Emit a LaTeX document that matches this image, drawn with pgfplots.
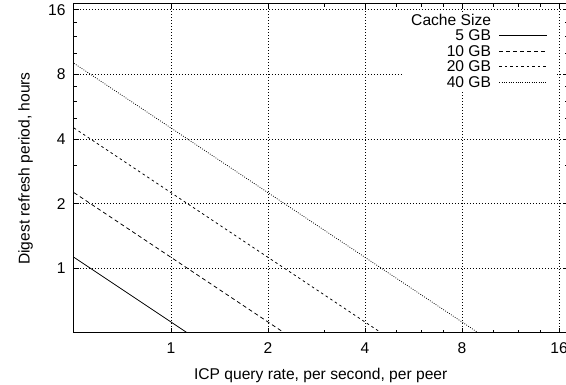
\documentclass[border=0pt]{standalone}
\usepackage{pgfplots}
\pgfplotsset{compat=1.18}
\usepackage{fontspec}
\setmainfont{Liberation Sans}
\newcommand{\myfont}{\fontsize{15.6pt}{18pt}\selectfont}
\begin{document}
\begin{tikzpicture}
\useasboundingbox (-74pt,-52pt) rectangle (492pt,333pt);
\begin{axis}[
  at={(0pt,0pt)}, anchor=south west,
  scale only axis, width=493.5pt, height=329pt,
  xmode=log, ymode=log,
  xmin=0.5, xmax=17, ymin=0.5, ymax=17,
  xtick={1,2,4,8,16}, xticklabels={1,2,4,8,16},
  ytick={1,2,4,8,16}, yticklabels={1,2,4,8,16},
  minor xtick={3,5,6,7,10,12,14},
  minor ytick={3,5,6,7,10,12,14},
  tick align=inside, tick pos=both,
  major tick length=5pt, minor tick length=3pt,
  every tick/.style={black, line width=0.8pt},
  axis line style={line width=1pt},
  grid=major,
  major grid style={black, line width=0.6pt, dash pattern=on 1pt off 2pt},
  /pgf/number format/assume math mode=true,
  tick label style={font=\myfont},
  xticklabel style={yshift=-6.5pt},
  yticklabel style={xshift=-5pt},
  xlabel={ICP query rate, per second, per peer},
  ylabel={Digest refresh period, hours},
  label style={font=\myfont},
  xlabel style={at={(axis description cs:0.5,-0.1277)}, anchor=center},
  ylabel style={at={(axis description cs:-0.0983,0.5)}, anchor=center},
  legend style={font=\myfont, draw=none, fill=white,
    at={(axis description cs:0.9747,0.9760)}, anchor=north east,
    inner xsep=7pt, inner ysep=1pt, row sep=1pt, column sep=8pt,
    nodes={inner sep=0pt, text height=12pt, text depth=2.5pt}},
  legend cell align=right,
  legend plot pos=right,
  legend image code/.code={\draw[#1] (0pt,0pt) -- (48pt,0pt);},
]
\addlegendimage{empty legend}
\addlegendentry{Cache Size}
\addplot[black, line width=0.8pt] coordinates {(0.5,1.125)(1,0.5625)(1.125,0.5)};
\addlegendentry{5 GB}
\addplot[black, line width=0.8pt, dash pattern=on 4pt off 3pt] coordinates {(0.5,2.25)(1,1.125)(2,0.5625)(2.25,0.5)};
\addlegendentry{10 GB}
\addplot[black, line width=0.8pt, dash pattern=on 2.5pt off 3pt] coordinates {(0.5,4.5)(1,2.25)(2,1.125)(4,0.5625)(4.5,0.5)};
\addlegendentry{20 GB}
\addplot[black, line width=0.8pt, dash pattern=on 0.8pt off 1.5pt] coordinates {(0.5,9)(1,4.5)(2,2.25)(4,1.125)(8,0.5625)(9,0.5)};
\addlegendentry{40 GB}
\end{axis}
\end{tikzpicture}
\end{document}
